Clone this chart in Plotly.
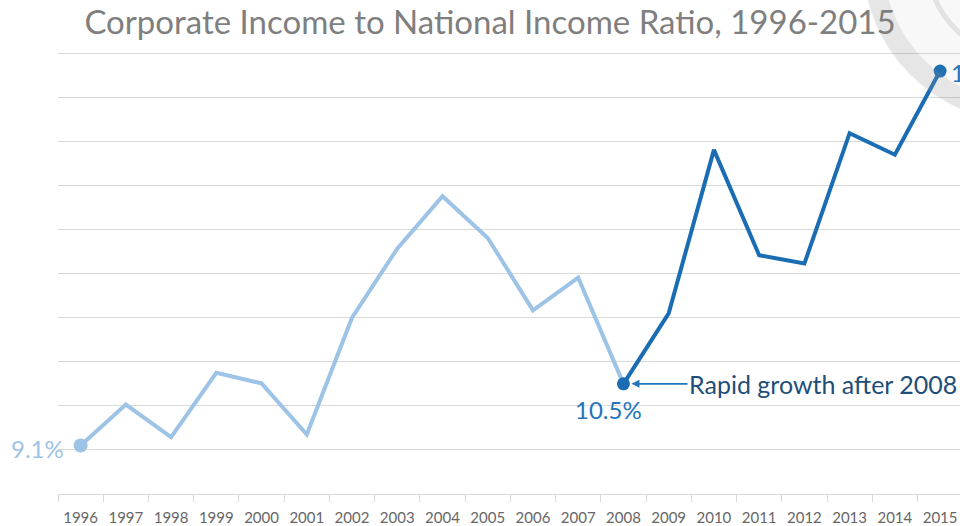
import plotly.graph_objects as go

# Corporate income as a share of national income (%)
years = [str(y) for y in range(1996, 2016)]
ratio = [9.1, 10.03, 9.29, 10.75, 10.51, 9.35, 12.0, 13.57, 14.76, 13.81,
         12.17, 12.91, 10.5, 12.1, 15.81, 13.42, 13.23, 16.19, 15.7, 17.6]

split_year = "2008"
title_text = "Corporate Income to National Income Ratio, 1996-2015"
callout_text = "Rapid growth after 2008"

LIGHT = "#9DC3E6"
DARK = "#1A6DB3"
LABEL_BLUE = "#2474BA"
NAVY = "#1F4E79"
GRID = "#D9D9D9"

W, H = 960, 526
M_L, M_R, M_T, M_B = 58, 0, 49, 32
PW, PH = W - M_L - M_R, H - M_T - M_B

k = years.index(split_year)
last = len(years) - 1

fig = go.Figure()
fig.add_trace(go.Scatter(x=years[:k + 1], y=ratio[:k + 1], mode="lines",
                         line=dict(color=LIGHT, width=4), hoverinfo="skip"))
fig.add_trace(go.Scatter(x=years[k:], y=ratio[k:], mode="lines",
                         line=dict(color=DARK, width=4), hoverinfo="skip"))
# highlighted points: start, break year and end
fig.add_trace(go.Scatter(x=[years[0]], y=[ratio[0]], mode="markers",
                         marker=dict(color=LIGHT, size=14), hoverinfo="skip"))
fig.add_trace(go.Scatter(x=[years[k], years[-1]], y=[ratio[k], ratio[-1]], mode="markers",
                         marker=dict(color=DARK, size=13), hoverinfo="skip"))

annotations = [
    dict(x=0, y=ratio[0], text=f"{ratio[0]:.1f}%", showarrow=False,
         xanchor="right", yanchor="middle", xshift=-15, yshift=-3,
         font=dict(size=24, color=LIGHT)),
    dict(x=k, y=ratio[k], text=f"{ratio[k]:.1f}%", showarrow=False,
         xanchor="center", yanchor="middle", xshift=-15, yshift=-26,
         font=dict(size=24, color=LABEL_BLUE)),
    dict(x=last, y=ratio[-1], text=f"{ratio[-1]:.1f}%", showarrow=False,
         xanchor="left", yanchor="middle", xshift=9, yshift=-1,
         font=dict(size=24, color=LABEL_BLUE)),
    dict(x=k, y=ratio[k], text=callout_text, showarrow=True,
         ax=64, ay=0, xanchor="left", yanchor="middle",
         arrowhead=2, arrowsize=1, arrowwidth=1.6, arrowcolor=LABEL_BLUE,
         standoff=8, font=dict(size=25, color=NAVY)),
]
for a in annotations:
    a.update(xref="x", yref="y")


def px_to_paper(px, py):
    return (px - M_L) / PW, (H - M_B - py) / PH


def circle(cx, cy, r, **kw):
    x0, y0 = px_to_paper(cx - r, cy + r)
    x1, y1 = px_to_paper(cx + r, cy - r)
    return dict(type="circle", xref="paper", yref="paper",
                x0=x0, y0=y0, x1=x1, y1=y1, layer="above", **kw)


# faint seal watermark in the top-right corner
seal_cx, seal_cy = 1025, -40
shapes = [
    circle(seal_cx, seal_cy, 163, fillcolor="rgba(150,150,150,0.07)", line=dict(width=0)),
    circle(seal_cx, seal_cy, 152, line=dict(color="rgba(150,150,150,0.18)", width=20)),
    circle(seal_cx, seal_cy, 98, line=dict(color="rgba(150,150,150,0.22)", width=5)),
]

fig.update_layout(
    width=W, height=H,
    margin=dict(l=M_L, r=M_R, t=M_T, b=M_B, pad=0, autoexpand=False),
    paper_bgcolor="white", plot_bgcolor="white",
    showlegend=False,
    font=dict(family="Lato, Open Sans, sans-serif"),
    annotations=annotations,
    shapes=shapes,
    title=dict(text=title_text, x=490 / W, xref="container", xanchor="center",
               y=1 - 22 / H, yanchor="middle",
               font=dict(size=33, color="#7F7F7F")),
    xaxis=dict(type="category", categoryorder="array", categoryarray=years,
               range=[-0.5, 19.44], tickson="boundaries", ticks="outside",
               ticklen=7, tickcolor=GRID, tickwidth=1, ticklabelstandoff=10,
               tickangle=0, automargin=False,
               showline=True, linecolor=GRID, linewidth=1, showgrid=False,
               tickfont=dict(size=15, color="#666666"), fixedrange=True),
    yaxis=dict(range=[8, 18.1], tick0=8, dtick=1, showticklabels=False,
               showgrid=True, gridcolor=GRID, gridwidth=1, zeroline=False,
               showline=False, ticks="", automargin=False, fixedrange=True),
)

fig.write_html("out.html")
